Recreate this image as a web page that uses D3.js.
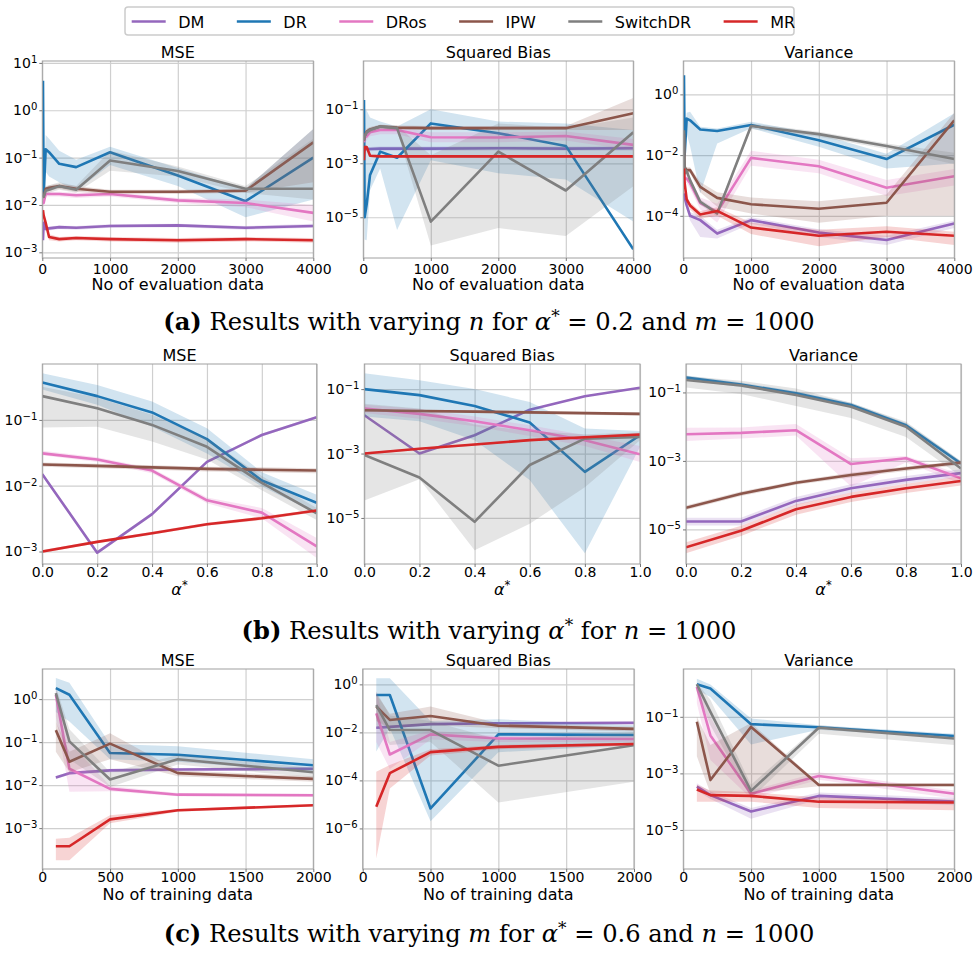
<!DOCTYPE html>
<html>
<head>
<meta charset="UTF-8">
<title>MSE / Squared Bias / Variance</title>
<script src="https://d3js.org/d3.v7.min.js"></script>
<style>
  body { margin: 0; background: #fff; }
  svg text { font-family: "DejaVu Sans", sans-serif; fill: #000; }
  .grid line { stroke: #cfcfcf; stroke-width: 1.2; }
  .grid .domain { display: none; }
  .ax .domain { display: none; }
  .ax line { stroke: #777; }
</style>
</head>
<body>
<svg id="fig" width="978" height="954"></svg>
<script>
const methods = ["DM", "DR", "DRos", "IPW", "SwitchDR", "MR"];
const colors = ["#9467bd", "#1f77b4", "#e377c2", "#8c564b", "#7f7f7f", "#d62728"];

// x values of the three experiments
const nEval = [10, 20, 50, 100, 250, 500, 1000, 2000, 3000, 4000];
const alphas = [0, 0.2, 0.4, 0.6, 0.8, 1.0];
const mTrain = [100, 200, 500, 1000, 2000];

// every point is [mean, lower, upper]
// (a) varying n
const evalMSE = {
  DM: [[0.0018,0.0016,0.0020],[0.0042,0.0037,0.0047],[0.0031,0.0028,0.0034],[0.0032,0.0029,0.0035],[0.0034,0.0031,0.0037],[0.0033,0.0030,0.0036],[0.0036,0.0033,0.0039],[0.0037,0.0034,0.0040],[0.0033,0.0030,0.0036],[0.0036,0.0033,0.0040]],
  DR: [[4.2,2.0,7.0],[0.016,0.012,0.030],[0.15,0.05,0.30],[0.13,0.04,0.25],[0.074,0.03,0.14],[0.063,0.02,0.09],[0.13,0.07,0.17],[0.042,0.025,0.06],[0.012,0.0055,0.022],[0.10,0.013,0.40]],
  DRos: [[0.012,0.010,0.014],[0.011,0.009,0.013],[0.017,0.015,0.019],[0.017,0.015,0.019],[0.017,0.015,0.019],[0.016,0.014,0.018],[0.017,0.015,0.019],[0.0125,0.011,0.014],[0.011,0.009,0.013],[0.0068,0.0045,0.010]],
  IPW: [[0.016,0.014,0.018],[0.015,0.013,0.017],[0.022,0.019,0.025],[0.023,0.020,0.026],[0.025,0.022,0.028],[0.022,0.019,0.025],[0.019,0.017,0.021],[0.019,0.017,0.021],[0.020,0.018,0.022],[0.21,0.030,0.40]],
  SwitchDR: [[0.016,0.014,0.018],[0.015,0.013,0.017],[0.020,0.017,0.023],[0.021,0.018,0.026],[0.025,0.021,0.030],[0.021,0.018,0.025],[0.087,0.053,0.14],[0.052,0.040,0.065],[0.022,0.018,0.025],[0.022,0.013,0.25]],
  MR: [[0.0078,0.0070,0.0088],[0.0060,0.0052,0.0068],[0.0042,0.0037,0.0047],[0.0021,0.0018,0.0024],[0.0019,0.0017,0.0021],[0.0020,0.0018,0.0022],[0.0019,0.0017,0.0021],[0.0018,0.0016,0.0020],[0.0019,0.0017,0.0021],[0.0018,0.0016,0.0020]]
};
const evalBias = {
  DM: [[0.0030,0.0025,0.0036],[0.0034,0.0028,0.0040],[0.0034,0.0028,0.0040],[0.0034,0.0028,0.0040],[0.0035,0.0029,0.0042],[0.0035,0.0029,0.0042],[0.0035,0.0029,0.0042],[0.0036,0.0030,0.0043],[0.0035,0.0029,0.0042],[0.0036,0.0030,0.0043]],
  DR: [[0.22,0.05,0.30],[1e-5,1.5e-6,0.09],[3e-5,1.4e-6,0.09],[3.7e-4,1e-4,0.05],[0.0027,6.4e-4,0.035],[0.0016,3.4e-6,0.023],[0.030,0.0013,0.10],[0.013,4.3e-4,0.035],[0.0044,2.5e-4,0.030],[6.5e-7,7e-6,0.017]],
  DRos: [[0.006,0.004,0.009],[0.009,0.006,0.013],[0.010,0.007,0.015],[0.014,0.010,0.019],[0.017,0.012,0.022],[0.017,0.012,0.022],[0.0092,0.006,0.014],[0.009,0.006,0.014],[0.0103,0.007,0.015],[0.0048,0.003,0.008]],
  IPW: [[0.007,0.005,0.010],[0.010,0.008,0.013],[0.015,0.012,0.019],[0.018,0.015,0.022],[0.023,0.019,0.027],[0.021,0.018,0.025],[0.020,0.017,0.024],[0.020,0.017,0.024],[0.020,0.017,0.024],[0.071,0.017,0.26]],
  SwitchDR: [[0.0073,0.005,0.010],[0.010,0.007,0.014],[0.014,0.010,0.018],[0.017,0.013,0.021],[0.023,0.019,0.027],[0.020,0.016,0.025],[6.9e-6,9e-7,0.002],[0.0027,4e-6,0.03],[9.8e-5,2e-6,0.02],[0.014,1.4e-4,0.05]],
  MR: [[0.0013,0.0011,0.0015],[0.0040,0.0035,0.0046],[0.0040,0.0035,0.0046],[0.0019,0.0017,0.0021],[0.0018,0.0016,0.0020],[0.0018,0.0016,0.0020],[0.0018,0.0016,0.0020],[0.0018,0.0016,0.0020],[0.0018,0.0016,0.0020],[0.0018,0.0016,0.0020]]
};
const evalVar = {
  DM: [[5.5e-4,4e-4,7e-4],[4e-4,3e-4,5e-4],[2.2e-4,1.6e-4,3e-4],[1e-4,7e-5,1.3e-4],[7.2e-5,2e-5,1e-4],[2.6e-5,1.8e-5,3.5e-5],[7.2e-5,5.5e-5,9e-5],[2.8e-5,2e-5,3.6e-5],[1.6e-5,1.1e-5,2.2e-5],[5.6e-5,4e-5,7e-5]],
  DR: [[4.3,2,5],[0.01,0.005,0.05],[0.16,0.05,0.25],[0.14,0.02,0.27],[0.07,5.5e-4,0.086],[0.062,0.024,0.075],[0.098,0.076,0.126],[0.031,0.019,0.05],[0.0074,0.0036,0.011],[0.1,0.0053,0.24]],
  DRos: [[0.0025,0.0018,0.0035],[0.0017,0.0012,0.0024],[0.0017,0.0012,0.0024],[0.0012,0.0008,0.0017],[2.6e-4,1.6e-4,4e-4],[1.35e-4,6e-5,2.5e-4],[0.0081,0.0045,0.014],[0.0043,0.0025,0.007],[8.4e-4,4.5e-4,0.0015],[0.002,0.001,0.0035]],
  IPW: [[0.05,0.03,0.07],[0.004,0.003,0.0055],[0.0032,0.0025,0.004],[0.0032,0.0025,0.004],[9e-4,6e-4,0.0013],[3.9e-4,2e-4,6e-4],[2.4e-4,1.2e-4,4e-4],[1.7e-4,5.9e-5,3e-4],[2.7e-4,1e-4,5e-4],[0.14,1e-4,0.25]],
  SwitchDR: [[0.066,0.05,0.08],[0.0025,0.002,0.003],[0.003,0.0024,0.0036],[0.0015,0.0012,0.0018],[2.9e-4,2.3e-4,3.5e-4],[1.2e-4,9.5e-5,1.5e-4],[0.091,0.073,0.11],[0.049,0.04,0.059],[0.02,0.016,0.024],[0.0074,0.005,0.012]],
  MR: [[0.0036,0.0028,0.0045],[0.0012,0.0009,0.0015],[3.5e-4,2.7e-4,4.5e-4],[2.2e-4,1.6e-4,2.8e-4],[1.1e-4,8e-5,1.4e-4],[1.45e-4,1e-4,1.9e-4],[4.1e-5,2.5e-5,6e-5],[2.2e-5,1e-5,3.5e-5],[3e-5,2e-5,4.5e-5],[2.2e-5,1.1e-5,3e-5]]
};

// (b) varying alpha*
const alphaMSE = {
  DM: [[0.015,0.014,0.016],[0.00096,0.0009,0.001],[0.0037,0.0035,0.0039],[0.023,0.022,0.024],[0.059,0.056,0.062],[0.11,0.105,0.115]],
  DR: [[0.37,0.29,0.51],[0.23,0.17,0.34],[0.13,0.079,0.19],[0.051,0.031,0.075],[0.012,0.0097,0.016],[0.0055,0.0038,0.0073]],
  DRos: [[0.031,0.029,0.034],[0.025,0.023,0.027],[0.017,0.0155,0.0185],[0.006,0.0054,0.0066],[0.0039,0.0032,0.0046],[0.0012,0.0008,0.0016]],
  IPW: [[0.021,0.0195,0.0225],[0.020,0.0185,0.0215],[0.019,0.0175,0.0205],[0.018,0.0165,0.0195],[0.0175,0.016,0.019],[0.017,0.0155,0.0185]],
  SwitchDR: [[0.23,0.077,0.32],[0.15,0.079,0.22],[0.084,0.047,0.12],[0.039,0.025,0.052],[0.011,0.0085,0.014],[0.0038,0.003,0.0046]],
  MR: [[0.001,0.00095,0.00105],[0.0014,0.00133,0.00147],[0.0019,0.0018,0.002],[0.0026,0.00247,0.00273],[0.0032,0.003,0.0034],[0.0042,0.004,0.0044]]
};
const alphaBias = {
  DM: [[0.0155,0.0145,0.0165],[0.001,0.00095,0.00105],[0.0037,0.0035,0.0039],[0.023,0.022,0.024],[0.06,0.057,0.063],[0.11,0.105,0.115]],
  DR: [[0.1,0.014,0.31],[0.065,0.01,0.19],[0.03,0.0026,0.1],[0.0092,1.5e-4,0.04],[2.7e-4,8e-7,0.006],[0.0037,0.0016,0.005]],
  DRos: [[0.025,0.018,0.033],[0.017,0.012,0.024],[0.01,0.007,0.014],[0.0053,0.0035,0.0075],[0.0026,0.0017,0.0037],[9.5e-4,5.5e-4,0.0017]],
  IPW: [[0.022,0.02,0.024],[0.021,0.019,0.023],[0.02,0.018,0.022],[0.019,0.017,0.021],[0.018,0.016,0.02],[0.017,0.015,0.019]],
  SwitchDR: [[9e-4,3.5e-5,0.035],[1.8e-4,1.6e-4,0.025],[7.6e-6,1e-6,0.008],[4.4e-4,6.6e-6,0.005],[0.0029,9e-5,0.004],[0.0033,0.0026,0.0045]],
  MR: [[0.001,0.00092,0.00108],[0.0014,0.0013,0.0015],[0.0019,0.00175,0.00205],[0.0026,0.0024,0.0028],[0.0032,0.003,0.0035],[0.0039,0.0036,0.0042]]
};
const alphaVar = {
  DM: [[1.7e-5,1.3e-5,2.2e-5],[1.7e-5,1.3e-5,2.2e-5],[6.8e-5,5.2e-5,8.8e-5],[1.6e-4,1.2e-4,2.1e-4],[2.8e-4,2.2e-4,3.6e-4],[4.4e-4,3.4e-4,5.7e-4]],
  DR: [[0.27,0.23,0.31],[0.17,0.145,0.195],[0.094,0.08,0.108],[0.043,0.037,0.05],[0.011,0.0094,0.0127],[8.4e-4,7.1e-4,9.7e-4]],
  DRos: [[0.006,0.0038,0.0093],[0.0066,0.0045,0.0095],[0.0079,0.0055,0.012],[8.1e-4,1.8e-4,0.0012],[0.0012,9e-4,0.0014],[3.1e-4,2.2e-4,4e-4]],
  IPW: [[4.3e-5,3.7e-5,5e-5],[1.1e-4,9.4e-5,1.27e-4],[2.3e-4,2e-4,2.65e-4],[3.9e-4,3.3e-4,4.5e-4],[6e-4,5.1e-4,6.9e-4],[8.9e-4,7.6e-4,0.001]],
  SwitchDR: [[0.23,0.14,0.3],[0.16,0.09,0.22],[0.084,0.04,0.13],[0.038,0.018,0.05],[0.01,0.005,0.014],[6e-4,3.5e-4,0.001]],
  MR: [[3e-6,2e-6,4.2e-6],[9.1e-6,6.4e-6,1.27e-5],[3.9e-5,2.7e-5,5.3e-5],[8.9e-5,6.3e-5,1.2e-4],[1.6e-4,1.15e-4,2.15e-4],[2.6e-4,1.9e-4,3.5e-4]]
};

// (c) varying m
const trainMSE = {
  DM: [[0.015,0.0138,0.0162],[0.019,0.0175,0.0205],[0.022,0.02,0.024],[0.023,0.021,0.025],[0.024,0.022,0.026]],
  DR: [[1.8,0.5,3.1],[1.26,0.3,2.4],[0.056,0.04,0.09],[0.051,0.035,0.08],[0.029,0.02,0.04]],
  DRos: [[1.26,0.4,1.8],[0.024,0.007,0.1],[0.0082,0.0072,0.0095],[0.006,0.0055,0.0066],[0.0058,0.0053,0.0063]],
  IPW: [[0.19,0.06,0.3],[0.035,0.02,0.06],[0.092,0.04,0.16],[0.019,0.016,0.022],[0.014,0.012,0.016]],
  SwitchDR: [[1.38,0.3,2],[0.104,0.04,0.2],[0.0135,0.009,0.02],[0.04,0.03,0.05],[0.02,0.015,0.025]],
  MR: [[3.8e-4,1.8e-4,5.7e-4],[3.8e-4,1.8e-4,6e-4],[0.0016,0.0013,0.002],[0.0026,0.0024,0.0028],[0.0034,0.0032,0.0036]]
};
const trainBias = {
  DM: [[0.0156,0.014,0.0172],[0.017,0.0153,0.0187],[0.022,0.02,0.024],[0.024,0.0216,0.0264],[0.025,0.0225,0.0275]],
  DR: [[0.36,0.0016,1.8],[0.36,0.015,1.8],[6.8e-6,2e-6,0.03],[0.0083,0.0015,0.035],[0.0078,0.003,0.02]],
  DRos: [[0.062,0.004,0.5],[0.0012,3e-4,0.004],[0.0083,0.005,0.012],[0.0056,0.004,0.007],[0.0053,0.004,0.007]],
  IPW: [[0.12,0.03,0.4],[0.033,0.015,0.06],[0.048,0.02,0.12],[0.019,0.015,0.024],[0.014,0.011,0.017]],
  SwitchDR: [[0.138,0.02,0.5],[0.0125,0.003,0.05],[0.0125,0.004,0.03],[4.1e-4,1.2e-5,0.005],[0.0029,8.7e-5,0.01]],
  MR: [[8e-6,5.6e-8,2.3e-4],[2e-4,4.6e-5,4.4e-4],[0.0015,0.0011,0.002],[0.0025,0.002,0.003],[0.0033,0.0028,0.0038]]
};
const trainVar = {
  DM: [[3.4e-4,2.5e-4,4.5e-4],[1.7e-4,1.25e-4,2.3e-4],[4.5e-5,2.5e-5,6e-5],[1.6e-4,1.2e-4,2.1e-4],[1e-4,7.5e-5,1.35e-4]],
  DR: [[1.42,0.9,2.2],[1.0,0.5,1.4],[0.055,0.0106,0.087],[0.043,0.035,0.05],[0.021,0.018,0.025]],
  DRos: [[1.14,0.3,1.5],[0.022,0.003,0.1],[1.9e-4,1.3e-4,2.5e-4],[8.1e-4,6e-4,0.0011],[1.9e-4,1.3e-4,2.5e-4]],
  IPW: [[0.067,0.004,0.1],[5.8e-4,2e-4,0.01],[0.044,2e-4,0.06],[3.9e-4,3.5e-4,4.5e-4],[3.9e-4,3.5e-4,4.5e-4]],
  SwitchDR: [[1.42,0.8,1.6],[0.15,0.05,0.4],[2.4e-4,1.3e-4,4e-4],[0.041,0.025,0.05],[0.017,0.01,0.02]],
  MR: [[2.7e-4,1e-4,4e-4],[1.7e-4,1e-4,2.5e-4],[1.6e-4,1e-4,2.2e-4],[1e-4,6e-5,1.4e-4],[9.4e-5,5e-5,1.2e-4]]
};

const titles = ["MSE", "Squared Bias", "Variance"];
const evalTicks = [0, 1000, 2000, 3000, 4000];
const alphaTicks = [0, 0.2, 0.4, 0.6, 0.8, 1.0];
const trainTicks = [0, 500, 1000, 1500, 2000];

// layout of the nine panels (pixels); y ranges given as log10 exponents
const rowA = { top: 61, bottom: 258, xs: nEval, xDom: [0, 4000], xTicks: evalTicks, fmt: d3.format("d"), xLab: "No of evaluation data", pad: 3, titleY: 58, labY: 290 };
const rowB = { top: 364, bottom: 564, xs: alphas, xDom: [0, 1], xTicks: alphaTicks, fmt: d3.format(".1f"), xLab: null, pad: 0, titleY: 361, labY: 595 };
const rowC = { top: 669, bottom: 869, xs: mTrain, xDom: [0, 2000], xTicks: trainTicks, fmt: d3.format("d"), xLab: "No of training data", pad: 0, titleY: 666, labY: 900 };

const panels = [
  { row: rowA, col: 0, data: evalMSE, left: 42.3, right: 313.3, yExp: [-3.12, 1.04], yTicks: [1, 0, -1, -2, -3] },
  { row: rowA, col: 1, data: evalBias, left: 363.3, right: 633.3, yExp: [-6.51, 0.79], yTicks: [-1, -3, -5] },
  { row: rowA, col: 2, data: evalVar, left: 683.3, right: 954.3, yExp: [-5.39, 1.10], yTicks: [0, -2, -4] },
  { row: rowB, col: 0, data: alphaMSE, left: 42.3, right: 316.7, yExp: [-3.19, -0.15], yTicks: [-1, -2, -3] },
  { row: rowB, col: 1, data: alphaBias, left: 364.3, right: 640, yExp: [-6.43, -0.22], yTicks: [-1, -3, -5] },
  { row: rowB, col: 2, data: alphaVar, left: 686, right: 961, yExp: [-6.01, -0.17], yTicks: [-1, -3, -5] },
  { row: rowC, col: 0, data: trainMSE, left: 42.3, right: 313.3, yExp: [-3.95, 0.70], yTicks: [0, -1, -2, -3] },
  { row: rowC, col: 1, data: trainBias, left: 362.7, right: 634, yExp: [-7.69, 0.64], yTicks: [0, -2, -4, -6] },
  { row: rowC, col: 2, data: trainVar, left: 683.3, right: 954.3, yExp: [-6.38, 0.69], yTicks: [-1, -3, -5] }
];

const svg = d3.select("#fig");
svg.append("rect").attr("width", 978).attr("height", 954).attr("fill", "#fff");

panels.forEach((p, i) => {
  const r = p.row;
  const g = svg.append("g");
  const x = d3.scaleLinear().domain(r.xDom).range([p.left, p.right]);
  const y = d3.scaleLog().domain([10 ** p.yExp[0], 10 ** p.yExp[1]]).range([r.bottom, r.top]);
  const yTickVals = p.yTicks.map(e => 10 ** e);
  const w = p.right - p.left, h = r.bottom - r.top;

  // grid
  g.append("g").attr("class", "grid").attr("transform", `translate(0,${r.bottom})`)
    .call(d3.axisBottom(x).tickValues(r.xTicks).tickSize(-h).tickFormat(""));
  g.append("g").attr("class", "grid").attr("transform", `translate(${p.left},0)`)
    .call(d3.axisLeft(y).tickValues(yTickVals).tickSize(-w).tickFormat(""));

  // clip
  svg.append("clipPath").attr("id", "clip" + i)
    .append("rect").attr("x", p.left).attr("y", r.top).attr("width", w).attr("height", h);
  const plot = g.append("g").attr("clip-path", `url(#clip${i})`);

  const area = d3.area().x((d, j) => x(r.xs[j])).y0(d => y(d[1])).y1(d => y(d[2]));
  const line = d3.line().x((d, j) => x(r.xs[j])).y(d => y(d[0]));

  methods.forEach((m, k) => {
    const rows = p.data[m];
    plot.append("path").attr("d", area(rows)).attr("fill", colors[k]).attr("fill-opacity", 0.2);
    plot.append("path").attr("d", line(rows)).attr("fill", "none")
      .attr("stroke", colors[k]).attr("stroke-width", 2.6)
      .attr("stroke-linejoin", "round");
  });

  // frame
  g.append("rect").attr("x", p.left).attr("y", r.top).attr("width", w).attr("height", h)
    .attr("fill", "none").attr("stroke", "#a0a0a0").attr("stroke-width", 1);

  // x axis
  const xa = g.append("g").attr("class", "ax").attr("transform", `translate(0,${r.bottom})`)
    .call(d3.axisBottom(x).tickValues(r.xTicks).tickSize(3).tickPadding(r.pad).tickFormat(r.fmt));
  xa.selectAll("text").attr("font-size", 14).attr("font-family", "DejaVu Sans");

  // y axis with 10^k labels
  const ya = g.append("g").attr("class", "ax").attr("transform", `translate(${p.left},0)`)
    .call(d3.axisLeft(y).tickValues(yTickVals).tickSize(3).tickPadding(2).tickFormat(""));
  ya.selectAll(".tick text").attr("font-size", 14).attr("font-family", "DejaVu Sans")
    .each(function (d) {
      const t = d3.select(this);
      const e = Math.round(Math.log10(d));
      t.append("tspan").text("10");
      t.append("tspan").attr("dy", "-0.5em").attr("font-size", "0.72em").text(e < 0 ? "\u2212" + (-e) : String(e));
    });

  // title
  g.append("text").attr("x", (p.left + p.right) / 2).attr("y", r.titleY)
    .attr("text-anchor", "middle").attr("font-size", 16).text(titles[p.col]);

  // x label
  const lab = g.append("text").attr("x", (p.left + p.right) / 2).attr("y", r.labY)
    .attr("text-anchor", "middle").attr("font-size", 16);
  if (r.xLab) {
    lab.text(r.xLab);
  } else {
    lab.append("tspan").attr("font-style", "italic").text("\u03b1");
    lab.append("tspan").attr("dy", "-0.5em").attr("font-size", "0.72em").text("*");
  }
});

// legend
const leg = svg.append("g");
leg.append("rect").attr("x", 125).attr("y", 7).attr("width", 669).attr("height", 28).attr("rx", 3)
  .attr("fill", "#fff").attr("stroke", "#cccccc").attr("stroke-width", 1.5);
let lx = 131.7;
methods.forEach((m, k) => {
  leg.append("line").attr("x1", lx).attr("x2", lx + 34).attr("y1", 21.5).attr("y2", 21.5)
    .attr("stroke", colors[k]).attr("stroke-width", 2.6);
  const t = leg.append("text").attr("x", lx + 46.5).attr("y", 27.5).attr("font-size", 16).text(m);
  lx = lx + 46.5 + t.node().getComputedTextLength() + 32.5;
});

// captions
const captionText = [
  { y: 330, parts: [["(a)", "b"], [" Results with varying ", ""], ["n", "i"], [" for ", ""], ["\u03b1", "i"], ["*", "s"], [" = 0.2 and ", ""], ["m", "i"], [" = 1000", ""]] },
  { y: 639, parts: [["(b)", "b"], [" Results with varying ", ""], ["\u03b1", "i"], ["*", "s"], [" for ", ""], ["n", "i"], [" = 1000", ""]] },
  { y: 942, parts: [["(c)", "b"], [" Results with varying ", ""], ["m", "i"], [" for ", ""], ["\u03b1", "i"], ["*", "s"], [" = 0.6 and ", ""], ["n", "i"], [" = 1000", ""]] }
];
const capNodes = captionText.map(c => {
  const t = svg.append("text").attr("x", 489).attr("y", c.y).attr("text-anchor", "middle")
    .attr("font-size", 20).style("font-family", "'DejaVu Serif', serif");
  let raised = false;
  c.parts.forEach(([s, k]) => {
    const ts = t.append("tspan").text(s);
    if (k === "b") ts.attr("font-weight", "bold");
    if (k === "i") ts.attr("font-style", "italic");
    if (k === "s") { ts.attr("dy", "-0.45em").attr("font-size", "0.7em"); raised = true; }
    else if (raised) { ts.attr("dy", "0.315em"); raised = false; }
  });
  return t;
});
// fit to the width of the first caption in the reference
const wA = capNodes[0].node().getComputedTextLength();
const fs = 20 * 652 / wA;
capNodes.forEach(t => t.attr("font-size", fs));
</script>
</body>
</html>
